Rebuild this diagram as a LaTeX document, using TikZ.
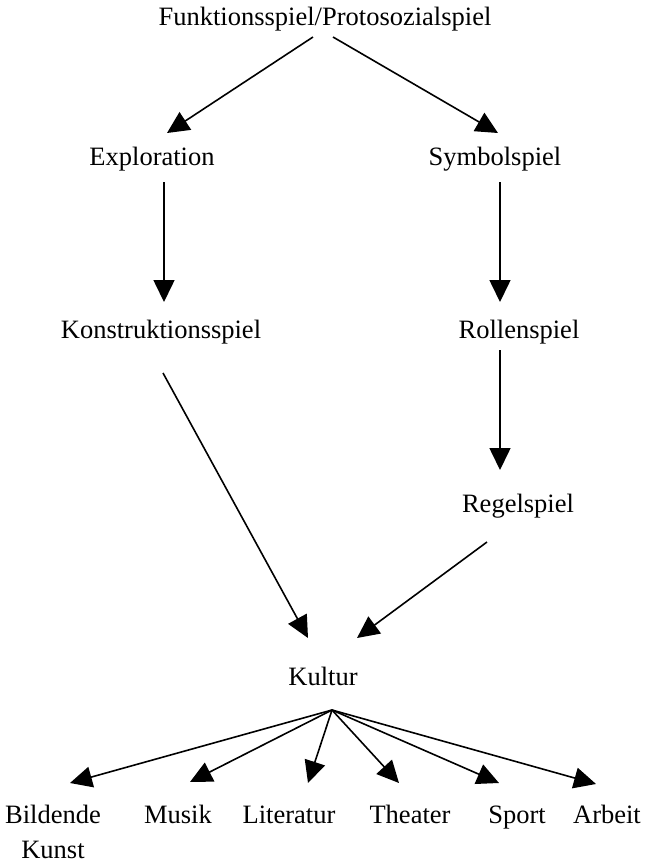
\documentclass[tikz,border=0pt]{standalone}
\usepackage{fontspec}
\setmainfont{Liberation Serif}
\usetikzlibrary{arrows.meta}
\begin{document}
\begin{tikzpicture}[x=1pt,y=-1pt,
  lbl/.style={anchor=base,inner sep=0pt,font=\fontsize{26.5}{35}\selectfont},
  arr/.style={line width=1.6pt,-{Triangle[length=22pt,width=21pt]}}]
\useasboundingbox (0,0) rectangle (646,863);
\node[lbl] (top) at (325,25) {Funktionsspiel/Protosozialspiel};
\node[lbl] (expl) at (152,165) {Exploration};
\node[lbl] (symb) at (495,165) {Symbolspiel};
\node[lbl] (konstr) at (161,338) {Konstruktionsspiel};
\node[lbl] (rollen) at (519,338) {Rollenspiel};
\node[lbl] (regel) at (518,512) {Regelspiel};
\node[lbl] (kultur) at (323,685) {Kultur};
\node[lbl] (bild) at (53,823) {\vtop{\hbox to 0pt{\hss Bildende\hss}\hbox to 0pt{\hss Kunst\hss}}};
\node[lbl] (musik) at (178,823) {Musik};
\node[lbl] (lit) at (289,823) {Literatur};
\node[lbl] (theat) at (410,823) {Theater};
\node[lbl] (sport) at (517,823) {Sport};
\node[lbl] (arbeit) at (607,823) {Arbeit};
\draw[arr] ([shift={(-12,12)}]top.base) -- ([shift={(15,-32)}]expl.base);
\draw[arr] ([shift={(8,12)}]top.base) -- ([shift={(3,-32)}]symb.base);
\draw[arr] ([shift={(12,17)}]expl.base) -- ([shift={(3,-36)}]konstr.base);
\draw[arr] ([shift={(5,17)}]symb.base) -- ([shift={(-19,-36)}]rollen.base);
\draw[arr] ([shift={(2,35)}]konstr.base) -- ([shift={(-15,-47)}]kultur.base);
\draw[arr] ([shift={(-19,12)}]rollen.base) -- ([shift={(-18,-42)}]regel.base);
\draw[arr] ([shift={(-31,30)}]regel.base) -- ([shift={(34,-47)}]kultur.base);
\coordinate (fan) at ([shift={(9,25)}]kultur.base);
\draw[arr] (fan) -- ([shift={(17,-40)}]bild.base);
\draw[arr] (fan) -- ([shift={(12,-41)}]musik.base);
\draw[arr] (fan) -- ([shift={(19,-40)}]lit.base);
\draw[arr] (fan) -- ([shift={(-11,-40)}]theat.base);
\draw[arr] (fan) -- ([shift={(-18,-40)}]sport.base);
\draw[arr] (fan) -- ([shift={(-11,-39)}]arbeit.base);
\end{tikzpicture}
\end{document}
